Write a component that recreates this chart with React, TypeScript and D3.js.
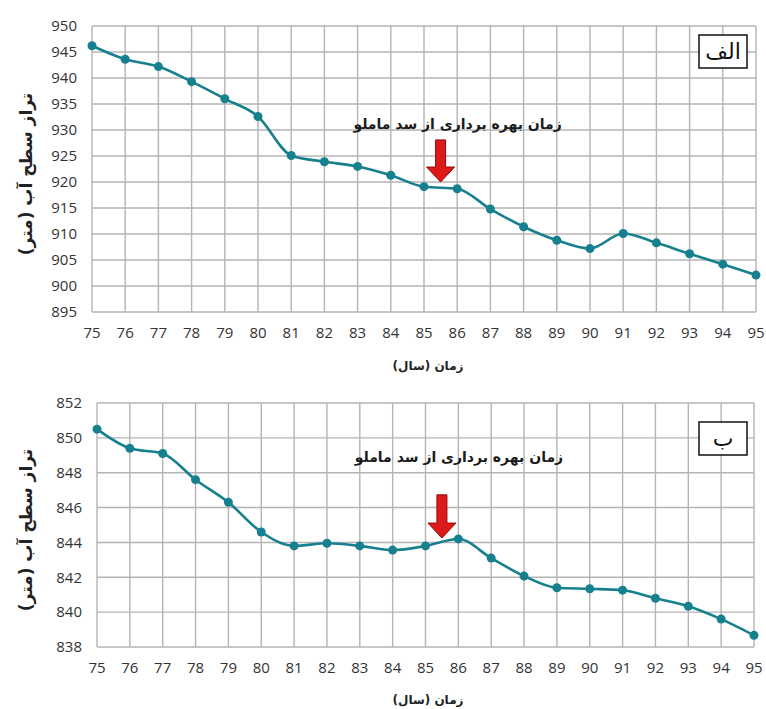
import * as React from 'react'
import * as d3 from 'd3'

// years (solar hijri, 13xx)
const years = [75, 76, 77, 78, 79, 80, 81, 82, 83, 84, 85, 86, 87, 88, 89, 90, 91, 92, 93, 94, 95]

// panel الف
const levelsA = [946.2, 943.6, 942.2, 939.3, 936.0, 932.6, 925.1, 923.9, 923.0, 921.3, 919.1, 918.7, 914.8, 911.4, 908.8, 907.2, 910.1, 908.3, 906.2, 904.2, 902.1]
const ticksA = [895, 900, 905, 910, 915, 920, 925, 930, 935, 940, 945, 950]

// panel ب
const levelsB = [850.5, 849.4, 849.1, 847.6, 846.3, 844.6, 843.8, 843.95, 843.8, 843.56, 843.8, 844.2, 843.1, 842.07, 841.4, 841.34, 841.26, 840.8, 840.34, 839.6, 838.67]
const ticksB = [838, 840, 842, 844, 846, 848, 850, 852]

const yTitle = 'تراز سطح آب (متر)'
const xTitle = 'زمان (سال)'
const note = 'زمان بهره برداری از سد ماملو'

const lineColor = '#17808f'
const gridColor = '#b4b4b4'
const numFont = '"Open Sans", "Noto Sans", sans-serif'
const faFont = '"DejaVu Sans", sans-serif'

interface PanelProps {
  values: number[]
  ticks: number[]
  x0: number
  x1: number
  yTop: number
  yBottom: number
  label: string
  labelY: number
  arrowFrom: number
  arrowTo: number
  noteAt: number
  xTitleY: number
}

function Panel({ values, ticks, x0, x1, yTop, yBottom, label, labelY, arrowFrom, arrowTo, noteAt, xTitleY }: PanelProps) {
  const x = d3.scaleLinear().domain([years[0], years[years.length - 1]]).range([x0, x1])
  const y = d3.scaleLinear().domain([ticks[0], ticks[ticks.length - 1]]).range([yBottom, yTop])

  const line = d3.line<number>()
    .x((_, i) => x(years[i]))
    .y(d => y(d))
    .curve(d3.curveMonotoneX)

  // arrow between 85 and 86
  const ax = x(85.5)
  const aTop = y(arrowFrom)
  const aTip = y(arrowTo)
  const headH = 15
  const arrow = [
    [ax - 5, aTop], [ax + 5, aTop], [ax + 5, aTip - headH], [ax + 14, aTip - headH],
    [ax, aTip], [ax - 14, aTip - headH], [ax - 5, aTip - headH],
  ]

  return (
    <g>
      {/* grid */}
      {years.map(yr => (
        <line key={'v' + yr} x1={x(yr)} x2={x(yr)} y1={yTop} y2={yBottom} stroke={gridColor} strokeWidth={1.4} />
      ))}
      {ticks.map(t => (
        <line key={'h' + t} x1={x0} x2={x1} y1={y(t)} y2={y(t)} stroke={gridColor} strokeWidth={1.4} />
      ))}

      {/* y tick labels */}
      {ticks.map(t => (
        <text key={'yt' + t} x={x0 - 15} y={y(t)} dy="0.35em" textAnchor="end"
          fontFamily={numFont} fontSize={15} fill="#333">{t}</text>
      ))}
      {/* x tick labels */}
      {years.map(yr => (
        <text key={'xt' + yr} x={x(yr)} y={yBottom + 21} dy="0.35em" textAnchor="middle"
          fontFamily={numFont} fontSize={15} fill="#333">{yr}</text>
      ))}

      <path d={line(values) || ''} fill="none" stroke={lineColor} strokeWidth={2.6} />
      {values.map((v, i) => (
        <circle key={'p' + i} cx={x(years[i])} cy={y(v)} r={4.5} fill={lineColor} />
      ))}

      {/* annotation */}
      <text x={x(85.5) + 17} y={y(noteAt)} textAnchor="middle" fontFamily={faFont}
        fontSize={14} fontWeight="bold" fill="#1a1a1a" direction="rtl">{note}</text>
      <polygon points={arrow.map(p => p.join(',')).join(' ')} fill="#dd1a1a" stroke="#8e0a0a" strokeWidth={1} />

      {/* panel label */}
      <rect x={699} y={labelY} width={48} height={33} fill="#fff" stroke="#111" strokeWidth={1.5} />
      <text x={723} y={labelY + 16} dy="0.35em" textAnchor="middle" fontFamily={faFont}
        fontSize={22} fill="#111" direction="rtl">{label}</text>

      {/* axis titles */}
      <text transform={`translate(26, ${(yTop + yBottom) / 2 + 5}) rotate(-90)`} textAnchor="middle"
        dy="0.35em" fontFamily={faFont} fontSize={17} fontWeight="bold" fill="#222" direction="rtl">{yTitle}</text>
      <text x={428} y={xTitleY} dy="0.35em" textAnchor="middle" fontFamily={faFont}
        fontSize={12} fontWeight="bold" fill="#222" direction="rtl">{xTitle}</text>
    </g>
  )
}

export default function App() {
  return (
    <svg width={766} height={709} style={{ position: 'absolute', left: 0, top: 0, background: '#fff' }}>
      <rect width={766} height={709} fill="#fff" />
      <Panel values={levelsA} ticks={ticksA} x0={92} x1={756} yTop={26} yBottom={312}
        label="الف" labelY={35} arrowFrom={928.1} arrowTo={920.0} noteAt={930.2} xTitleY={366} />
      <Panel values={levelsB} ticks={ticksB} x0={97} x1={754} yTop={403} yBottom={647}
        label="ب" labelY={422} arrowFrom={846.73} arrowTo={844.25} noteAt={848.6} xTitleY={700} />
    </svg>
  )
}
